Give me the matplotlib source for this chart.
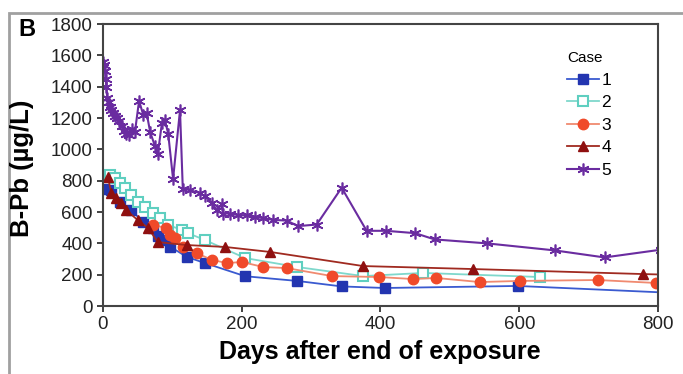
import matplotlib
matplotlib.use("Agg")
import matplotlib.pyplot as plt
from matplotlib.patches import Rectangle

plt.rcParams['font.family'] = ['Liberation Sans', 'DejaVu Sans']

# Case 1
days1 = [0, 11, 24, 40, 58, 72, 79, 89, 97, 121, 147, 205, 280, 344, 406, 598, 830]
pb1 = [750, 740, 665, 615, 535, 500, 450, 420, 378, 313, 274, 190, 160, 125, 115, 128, 82]
# Case 2
days2 = [10, 17, 24, 32, 40, 50, 60, 72, 82, 94, 114, 122, 147, 205, 280, 375, 461, 630]
pb2 = [836, 817, 785, 753, 708, 664, 632, 595, 562, 517, 485, 466, 421, 306, 249, 191, 211, 185]
# Case 3
days3 = [72, 91, 97, 104, 115, 135, 157, 179, 200, 231, 265, 330, 398, 447, 480, 543, 601, 713, 797]
pb3 = [517, 498, 455, 434, 377, 338, 294, 274, 281, 249, 242, 191, 185, 172, 179, 153, 160, 166, 147]
# Case 4
days4 = [7, 12, 19, 26, 33, 50, 65, 79, 121, 176, 241, 375, 533, 778, 830]
pb4 = [823, 721, 689, 657, 613, 549, 498, 408, 389, 377, 345, 255, 236, 204, 198]
# Case 5
days5 = [0, 2, 3, 4, 5, 6, 8, 10, 12, 14, 17, 20, 23, 27, 30, 33, 37, 42, 46, 52,
         58, 63, 68, 75, 79, 85, 89, 94, 101, 111, 115, 125, 140, 147, 157, 164,
         171, 173, 183, 195, 207, 219, 231, 245, 265, 281, 308, 344, 380, 408,
         450, 478, 553, 651, 723, 805]
pb5 = [1560, 1540, 1500, 1450, 1400, 1330, 1300, 1270, 1250, 1230, 1210, 1200,
       1180, 1150, 1120, 1100, 1090, 1130, 1110, 1310, 1220, 1230, 1110, 1020,
       970, 1170, 1190, 1100, 810, 1250, 750, 740, 720, 700, 660, 610, 650, 590,
       590, 580, 580, 570, 560, 550, 545, 510, 520, 755, 480, 480, 465, 425, 400,
       355, 310, 360]

fig = plt.figure(figsize=(6.83, 3.74), dpi=100)
ax = fig.add_axes([0.1508, 0.1818, 0.8126, 0.754])

ax.plot(days1, pb1, color='#3a5ad0', lw=1.3, marker='s', ms=7,
        mfc='#2335b0', mec='#2335b0', label='1')
ax.plot(days2, pb2, color='#7fd8cc', lw=1.3, marker='s', ms=7,
        mfc='white', mec='#5fcfc0', mew=1.5, label='2')
ax.plot(days3, pb3, color='#f08a70', lw=1.3, marker='o', ms=7.5,
        mfc='#f04a2a', mec='#f04a2a', label='3')
ax.plot(days4, pb4, color='#a02a20', lw=1.3, marker='^', ms=7.5,
        mfc='#8f1010', mec='#8f1010', label='4')
ax.plot(days5, pb5, color='#6a2ca0', lw=1.5, marker=(6, 2, 0), ms=8.5,
        mec='#6a2ca0', mew=1.2, label='5')

ax.set_xlim(0, 800)
ax.set_ylim(0, 1800)
ax.set_xticks([0, 200, 400, 600, 800])
ax.set_yticks(range(0, 1801, 200))
ax.tick_params(labelsize=13.5, length=4, width=1.3, color='#333333', labelcolor='#222222')
for s in ax.spines.values():
    s.set_color('#444444')
    s.set_linewidth(1.5)

leg = ax.legend(title='Case', loc='upper left', bbox_to_anchor=(0.813, 0.895),
                bbox_transform=fig.transFigure, frameon=False, fontsize=12.5,
                title_fontsize=11, handlelength=1.8, handletextpad=0.15,
                labelspacing=0.42, borderpad=0.2, alignment='left')

fig.text(0.039, 0.92, 'B', fontsize=17, fontweight='bold', ha='center', va='center')
fig.text(0.032, 0.55, 'B-Pb (µg/L)', fontsize=18.5, fontweight='bold', rotation=90,
         ha='center', va='center')
fig.text(0.556, 0.059, 'Days after end of exposure', fontsize=18, fontweight='bold',
         ha='center', va='center')

fig.patches.append(Rectangle((9 / 683, -0.5), 2, 0.5 + 1 - 13 / 374,
                             transform=fig.transFigure, fill=False,
                             edgecolor='#a0a0a0', lw=2))

fig.savefig('out.png', dpi=100)
